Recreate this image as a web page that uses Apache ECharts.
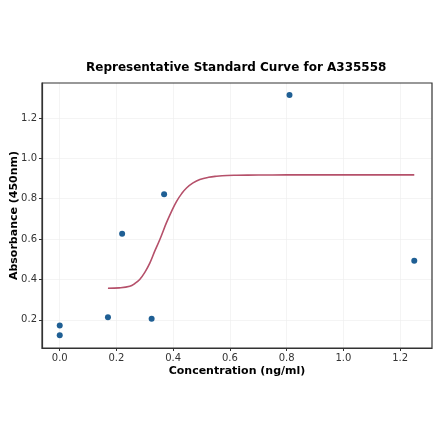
<!DOCTYPE html>
<html lang="en">
<head>
  <meta charset="UTF-8">
  <title>Standard Curve</title>
  <script src="https://cdn.jsdelivr.net/npm/echarts@6/dist/echarts.min.js"></script>
  <style>
    html, body { margin: 0; padding: 0; background: #fff; }
    #main { width: 440px; height: 441px; }
  </style>
</head>
<body>
<div id="main"></div>
<script>
  // measured points
  var pointX = [0, 0, 0.17, 0.22, 0.324, 0.368, 0.81, 1.25];
  var pointY = [0.172, 0.124, 0.213, 0.626, 0.205, 0.822, 1.314, 0.492];

  // fitted curve
  var curveX = [0.17, 0.21, 0.247, 0.265, 0.282, 0.3, 0.318, 0.335, 0.353, 0.376, 0.395, 0.412, 0.43, 0.447, 0.47, 0.494, 0.525, 0.553, 0.59, 0.624, 0.7, 0.8, 0.9, 1.0, 1.1, 1.25];
  var curveY = [0.356, 0.358, 0.366, 0.38, 0.4, 0.435, 0.482, 0.54, 0.598, 0.68, 0.74, 0.787, 0.825, 0.853, 0.878, 0.895, 0.906, 0.911, 0.915, 0.916, 0.917, 0.918, 0.918, 0.918, 0.918, 0.918];

  var xTicks = [0, 0.2, 0.4, 0.6, 0.8, 1.0, 1.2];
  var yTicks = [0.2, 0.4, 0.6, 0.8, 1.0, 1.2];

  var points = pointX.map(function (x, i) { return [x, pointY[i]]; });
  var curve = curveX.map(function (x, i) { return [x, curveY[i]]; });

  var font = 'DejaVu Sans';

  echarts.init(document.querySelector('#main')).setOption({
    animation: false,
    title: {
      text: 'Representative Standard Curve for A335558',
      left: 81,
      top: 57,
      textStyle: { fontFamily: font, fontSize: 12, fontWeight: 'bold', color: '#000' }
    },
    grid: { left: 42, right: 8, top: 83, bottom: 93, containLabel: false, outerBoundsMode: 'none' },
    xAxis: {
      type: 'value',
      min: -0.0625,
      max: 1.3125,
      name: 'Concentration (ng/ml)',
      nameLocation: 'middle',
      nameGap: 18,
      nameMoveOverlap: false,
      nameTextStyle: { fontFamily: font, fontSize: 11, fontWeight: 'bold', color: '#000' },
      axisLine: { show: true, onZero: false, lineStyle: { color: '#333', width: 1.2 } },
      axisTick: { show: true, inside: false, customValues: xTicks, length: 3, lineStyle: { color: '#333' } },
      axisLabel: {
        customValues: xTicks,
        formatter: function (v) { return v.toFixed(1); },
        fontFamily: font, fontSize: 10, color: '#333', margin: 5
      },
      splitLine: { show: true, lineStyle: { color: '#ececec', width: 0.6 } }
    },
    yAxis: {
      type: 'value',
      min: 0.0604,
      max: 1.373,
      name: 'Absorbance (450nm)',
      nameLocation: 'middle',
      nameGap: 22,
      nameMoveOverlap: false,
      nameTextStyle: { fontFamily: font, fontSize: 11, fontWeight: 'bold', color: '#000' },
      axisLine: { show: true, onZero: false, lineStyle: { color: '#333', width: 1.2 } },
      axisTick: { show: true, inside: false, customValues: yTicks, length: 3, lineStyle: { color: '#333' } },
      axisLabel: {
        customValues: yTicks,
        formatter: function (v) { return v.toFixed(1); },
        fontFamily: font, fontSize: 10, color: '#333', margin: 5
      },
      splitLine: { show: true, lineStyle: { color: '#ececec', width: 0.6 } }
    },
    graphic: [{
      type: 'rect',
      shape: { x: 42, y: 83, width: 390, height: 265 },
      style: { fill: 'none', stroke: '#333', lineWidth: 1.2 },
      silent: true,
      z: 100
    }],
    series: [
      {
        name: 'Fit',
        type: 'line',
        data: curve,
        smooth: 0.4,
        showSymbol: false,
        lineStyle: { color: '#b5506a', width: 1.6 },
        z: 2
      },
      {
        name: 'Standards',
        type: 'scatter',
        data: points,
        symbolSize: 6,
        itemStyle: { color: '#1f5f94', opacity: 1 },
        z: 3
      }
    ]
  });
</script>
</body>
</html>
